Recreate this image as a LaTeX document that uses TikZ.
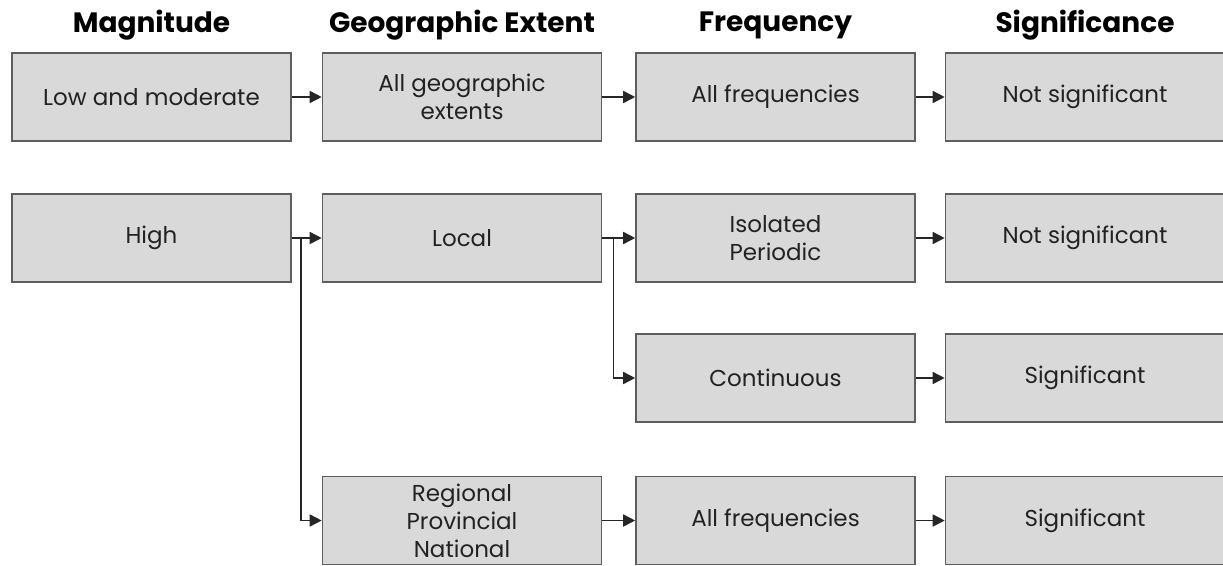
\documentclass[tikz,border=0pt]{standalone}
\usepackage{fontspec}
\setmainfont{Poppins}
\usetikzlibrary{arrows.meta}
\definecolor{boxfill}{HTML}{D9D9D9}
\definecolor{boxline}{HTML}{5E5E5E}
\definecolor{txt}{HTML}{222222}
\tikzset{
  box/.style={draw=boxline, fill=boxfill, line width=1.6pt, minimum width=279pt, minimum height=88pt,
    inner sep=0pt, align=center, text=txt, font=\fontsize{23}{28}\selectfont},
  head/.style={font=\fontsize{28}{33}\selectfont\bfseries, text=black, inner sep=0pt},
  conn/.style={draw=black!85, line width=1.6pt, -{Triangle[length=12pt,width=12pt]}},
}
\begin{document}
\begin{tikzpicture}[x=1pt,y=-1pt]
\useasboundingbox (0,0) rectangle (1223,565);
% headers
\node[head] (h1) at (151.5,25) {Magnitude};
\node[head] (h2) at (462,25) {Geographic Extent};
\node[head] (h3) at (775.5,25) {Frequency};
\node[head] (h4) at (1085,25) {Significance};
% row 1
\node[box] (a1) at (151.5,97) {Low and moderate};
\node[box] (a2) at (462,97) {All geographic\\extents};
\node[box] (a3) at (775.5,97) {All frequencies};
\node[box] (a4) at (1085,97) {Not significant};
% row 2
\node[box] (b1) at (151.5,238) {High};
\node[box] (b2) at (462,238) {Local};
\node[box] (b3) at (775.5,238) {Isolated\\Periodic};
\node[box] (b4) at (1085,238) {Not significant};
% row 3
\node[box] (c3) at (775.5,378) {Continuous};
\node[box] (c4) at (1085,378) {Significant};
% row 4
\node[box] (d2) at (462,520.5) {Regional\\Provincial\\National};
\node[box] (d3) at (775.5,520.5) {All frequencies};
\node[box] (d4) at (1085,520.5) {Significant};
% connectors
\draw[conn] (a1) -- (a2);
\draw[conn] (a2) -- (a3);
\draw[conn] (a3) -- (a4);
\draw[conn] (b1) -- (b2);
\draw[conn] (b2) -- (b3);
\draw[conn] (b3) -- (b4);
\draw[conn] (c3) -- (c4);
\draw[conn] (d2) -- (d3);
\draw[conn] (d3) -- (d4);
\coordinate (j1) at ([xshift=9pt]b1.east);
\coordinate (j2) at ([xshift=11pt]b2.east);
\draw[conn] (j1) |- (d2.west);
\draw[conn] (j2) |- (c3.west);
\end{tikzpicture}
\end{document}
